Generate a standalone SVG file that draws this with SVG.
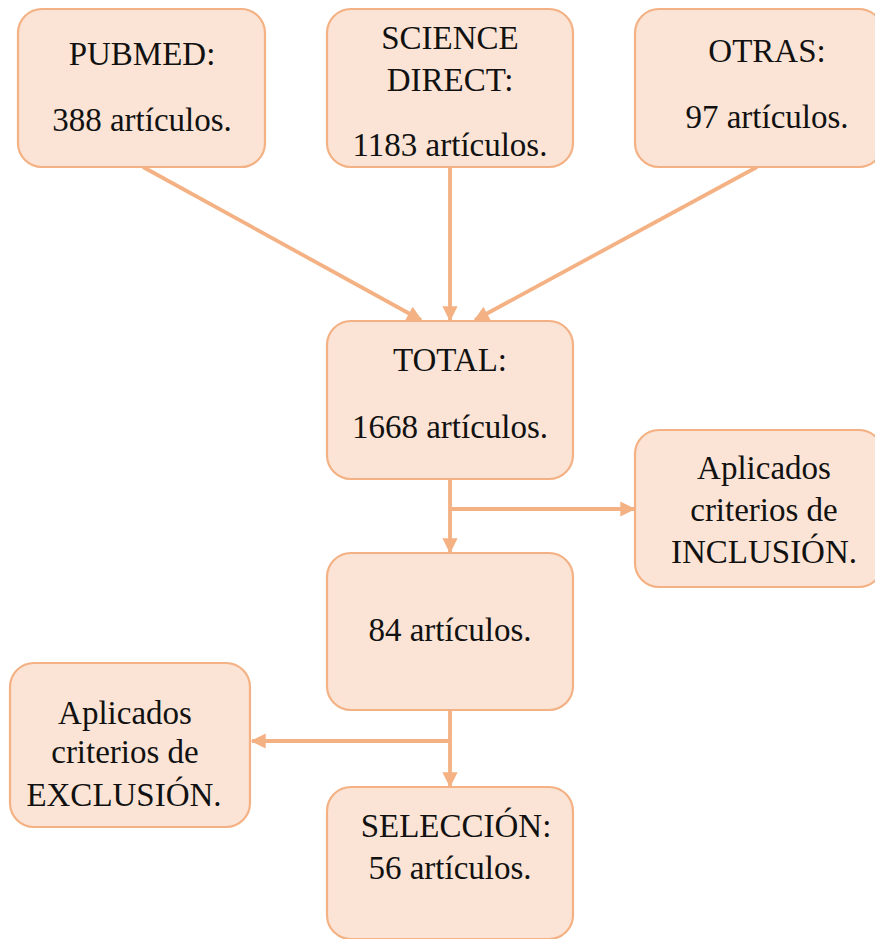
<svg xmlns="http://www.w3.org/2000/svg" width="875" height="939" viewBox="0 0 875 939">
<defs>
<style>
.box{fill:#FBE4D5;stroke:#F4B183;stroke-width:2.2}
.t{font-family:'Liberation Serif','Times New Roman',Times,'DejaVu Serif',serif;font-size:33px;fill:#111;text-anchor:middle}
.c{stroke:#F4B183;stroke-width:3.8;fill:none;marker-end:url(#ah)}
</style>
<marker id="ah" viewBox="0 0 10 10" refX="9" refY="5" markerWidth="4.2" markerHeight="4" markerUnits="strokeWidth" orient="auto">
<path d="M0,0 L10,5 L0,10 z" fill="#F4B183"/>
</marker>
</defs>
<rect width="875" height="939" fill="#fff"/>
<g id="connectors">
<line class="c" x1="143" y1="167" x2="421" y2="320"/>
<line class="c" x1="450" y1="167" x2="450" y2="320"/>
<line class="c" x1="757" y1="167" x2="475" y2="320"/>
<line class="c" x1="450" y1="479" x2="450" y2="552"/>
<line class="c" x1="450" y1="509" x2="634" y2="509"/>
<line class="c" x1="450" y1="710" x2="450" y2="786"/>
<line class="c" x1="450" y1="741" x2="252" y2="741"/>
</g>
<g id="pubmed">
<rect class="box" x="18" y="9" width="247" height="158" rx="24"/>
<text class="t" x="142" y="65">PUBMED:</text>
<text class="t" x="142" y="131">388 artículos.</text>
</g>
<g id="sciencedirect">
<rect class="box" x="327" y="9" width="246" height="158" rx="24"/>
<text class="t" x="450" y="49">SCIENCE</text>
<text class="t" x="450" y="91">DIRECT:</text>
<text class="t" x="450" y="156">1183 artículos.</text>
</g>
<g id="otras">
<rect class="box" x="635" y="9" width="248" height="158" rx="24"/>
<text class="t" x="767" y="62">OTRAS:</text>
<text class="t" x="767" y="128">97 artículos.</text>
</g>
<g id="total">
<rect class="box" x="327" y="321" width="246" height="158" rx="24"/>
<text class="t" x="450" y="371">TOTAL:</text>
<text class="t" x="450" y="438">1668 artículos.</text>
</g>
<g id="inclusion">
<rect class="box" x="635" y="430" width="248" height="157" rx="24"/>
<text class="t" x="764" y="479">Aplicados</text>
<text class="t" x="764" y="521">criterios de</text>
<text class="t" x="764" y="563">INCLUSIÓN.</text>
</g>
<g id="n84">
<rect class="box" x="327" y="553" width="246" height="157" rx="24"/>
<text class="t" x="450" y="641">84 artículos.</text>
</g>
<g id="exclusion">
<rect class="box" x="10" y="663" width="240" height="164" rx="24"/>
<text class="t" x="125" y="724">Aplicados</text>
<text class="t" x="125" y="763">criterios de</text>
<text class="t" x="124" y="806">EXCLUSIÓN.</text>
</g>
<g id="seleccion">
<rect class="box" x="327" y="787" width="246" height="152" rx="24"/>
<text class="t" x="456" y="837">SELECCIÓN:</text>
<text class="t" x="450" y="879">56 artículos.</text>
</g>
</svg>
